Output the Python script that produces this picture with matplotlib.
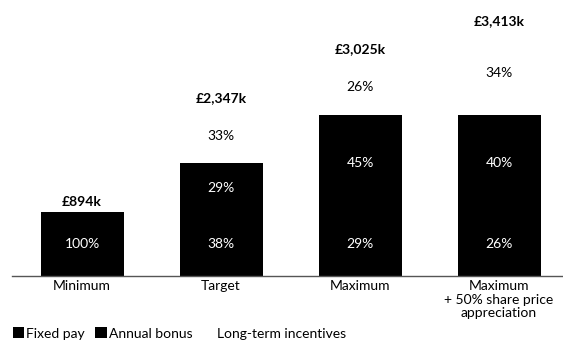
import matplotlib
matplotlib.use("Agg")
import matplotlib.pyplot as plt
import numpy as np
from matplotlib.patches import Patch

plt.rcParams['font.family'] = ['Lato', 'DejaVu Sans']

scenarios = ["Minimum", "Target", "Maximum", "Maximum\n+ 50% share price\nappreciation"]
fixed = [894, 894, 894, 894]
bonus = [0, 681, 1361, 1361]
lti = [0, 772, 770, 1158]
fixed_pct = ["100%", "38%", "29%", "26%"]
bonus_pct = ["", "29%", "45%", "40%"]
lti_pct = ["", "33%", "26%", "34%"]

fig = plt.figure(figsize=(5.63, 3.47), dpi=100)
ax = fig.add_axes([12/563, 71/347, 551/563, 276/347])

x = np.arange(len(scenarios))
w = 0.597
fixed = np.array(fixed)
bonus = np.array(bonus)
lti = np.array(lti)
ax.bar(x, fixed, w, color="black")
ax.bar(x, bonus, w, bottom=fixed, color="black")
ax.bar(x, lti, w, bottom=fixed + bonus, color="white")

totals = fixed + bonus + lti
fs = 10
for i in range(len(x)):
    ax.text(x[i], fixed[i] / 2, fixed_pct[i], ha="center", va="center",
            color="white", fontsize=fs)
    if bonus_pct[i]:
        ax.text(x[i], fixed[i] + bonus[i] / 2, bonus_pct[i], ha="center",
                va="center", color="white", fontsize=fs)
    if lti_pct[i]:
        ax.text(x[i], fixed[i] + bonus[i] + lti[i] / 2, lti_pct[i],
                ha="center", va="center", color="black", fontsize=fs)
    ax.annotate(f"£{totals[i]:,}k", (x[i], totals[i]), xytext=(0, 3),
                textcoords="offset points", ha="center", va="bottom",
                fontsize=fs, fontweight="bold")

ax.set_xlim(-0.504, 3.46)
ax.set_ylim(0, 3856)
ax.set_xticks(x)
ax.set_xticklabels(scenarios, fontsize=fs, linespacing=1.15)
ax.tick_params(axis="x", length=0, pad=3)
ax.set_yticks([])
for s in ["top", "right", "left"]:
    ax.spines[s].set_visible(False)
ax.spines["bottom"].set_color("#555555")
ax.spines["bottom"].set_linewidth(1)

handles = [Patch(facecolor="black"), Patch(facecolor="black"),
           Patch(facecolor="white")]
fig.legend(handles, ["Fixed pay", "Annual bonus", "Long-term incentives"],
           loc="lower left", bbox_to_anchor=(0.0, -0.015), ncol=3,
           frameon=False, fontsize=fs, handlelength=0.85, handleheight=0.85,
           handletextpad=0.15, columnspacing=0.75)

fig.savefig("out.png", dpi=100)
